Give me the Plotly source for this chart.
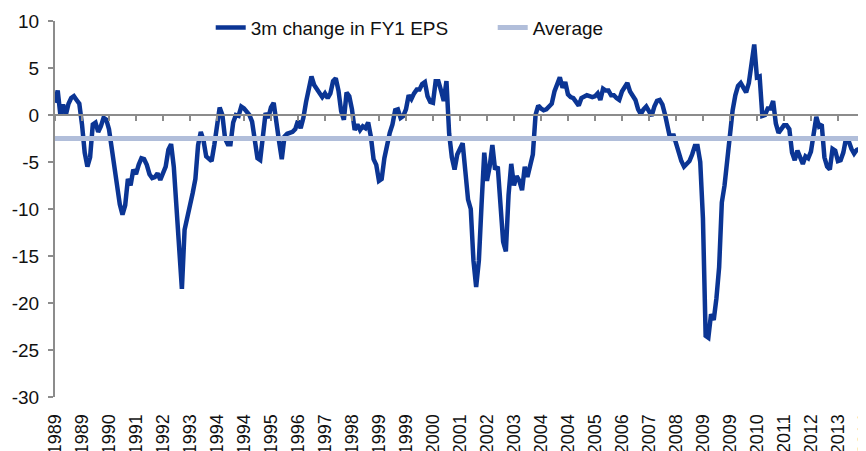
import plotly.graph_objects as go

# Monthly values, Jan 1989 .. Jan 2014
v1989 = [1.3, 2.6, 0.0, 1.1, 0.0, 1.2, 1.8, 2.0, 1.6, 1.2, -1.0, -4.0]
v1990 = [-5.5, -4.5, -1.0, -0.8, -1.8, -1.2, -0.3, -0.5, -1.5, -3.7, -5.5, -7.2]
v1991 = [-9.5, -10.6, -9.6, -6.8, -7.5, -5.8, -6.3, -5.3, -4.6, -4.7, -5.3, -6.3]
v1992 = [-6.7, -6.6, -6.2, -6.9, -6.2, -5.5, -3.7, -3.1, -5.5, -9.5, -14.0, -18.5]
v1993 = [-12.2, -11.0, -9.5, -8.3, -6.8, -3.2, -1.8, -2.7, -4.4, -4.7, -4.9, -3.2]
v1994 = [-0.9, 0.8, 0.0, -2.5, -3.1, -3.1, -0.8, 0.0, -0.1, 0.9, 0.7, 0.4]
v1995 = [0.0, -0.7, -2.5, -4.6, -4.8, -2.5, 0.2, -0.3, 0.8, 1.3, -0.4, -2.8]
v1996 = [-4.7, -2.3, -2.0, -1.9, -1.8, -1.5, -0.6, -1.4, -0.3, 1.4, 3.0, 4.1]
v1997 = [3.2, 2.8, 2.4, 1.9, 2.3, 1.8, 2.3, 3.6, 3.9, 2.6, 0.4, -0.5]
v1998 = [2.4, 2.0, 0.6, -1.6, -1.0, -1.6, -1.2, -1.4, -0.8, -2.3, -4.7, -5.3]
v1999 = [-7.0, -6.8, -4.6, -3.0, -1.9, -1.0, 0.5, 0.6, -0.3, -0.1, 0.6, 2.1]
v2000 = [1.7, 2.3, 2.7, 2.7, 3.3, 3.5, 2.0, 1.4, 1.3, 3.6, 3.6, 2.6]
v2001 = [1.5, 3.6, -2.0, -4.5, -5.8, -4.2, -3.5, -3.0, -6.0, -9.0, -10.0, -15.5]
v2002 = [-18.3, -15.5, -9.5, -4.0, -7.0, -5.5, -3.2, -5.8, -5.5, -10.5, -13.5, -14.5]
v2003 = [-8.5, -5.2, -7.5, -6.5, -7.0, -8.0, -5.5, -6.6, -5.4, -4.2, 0.0, 1.0]
v2004 = [0.7, 0.5, 0.6, 0.9, 1.2, 2.5, 3.3, 4.0, 2.9, 3.5, 2.2, 1.9]
v2005 = [1.8, 1.4, 1.0, 1.8, 2.0, 2.1, 2.0, 1.9, 2.0, 2.3, 1.6, 2.8]
v2006 = [2.6, 2.6, 2.1, 2.1, 1.8, 1.6, 2.5, 3.0, 3.4, 2.5, 2.1, 1.6]
v2007 = [0.6, 0.1, 0.6, 0.9, 0.4, -0.1, 0.9, 1.5, 1.6, 1.1, 0.0, -1.2]
v2008 = [-2.7, -2.0, -3.0, -3.8, -4.9, -5.5, -5.1, -4.9, -4.2, -3.3, -3.3, -5.0]
v2009 = [-11.0, -23.5, -23.7, -21.2, -21.8, -19.5, -16.2, -9.3, -7.5, -4.8, -3.0, 0.5]
v2010 = [2.1, 3.1, 3.4, 3.0, 2.4, 3.4, 5.4, 7.5, 4.0, 4.1, -0.1, 0.0]
v2011 = [0.7, 0.7, 1.5, -0.9, -1.9, -1.5, -1.1, -1.1, -1.5, -4.0, -4.8, -3.8]
v2012 = [-4.4, -5.2, -4.4, -4.6, -3.9, -2.3, -0.2, -1.2, -1.0, -4.5, -5.5, -5.8]
v2013 = [-3.6, -3.8, -4.9, -4.8, -4.0, -2.5, -2.8, -3.6, -4.1, -3.7, -3.6, -3.3]
v2014 = [-1.5]

eps_change = (v1989 + v1990 + v1991 + v1992 + v1993 + v1994 + v1995 + v1996 +
              v1997 + v1998 + v1999 + v2000 + v2001 + v2002 + v2003 + v2004 +
              v2005 + v2006 + v2007 + v2008 + v2009 + v2010 + v2011 + v2012 +
              v2013 + v2014)
average_value = -2.5

tick_labels = ["1989", "1989", "1990", "1991", "1992", "1993", "1994", "1994",
               "1995", "1996", "1997", "1998", "1999", "1999", "2000", "2001",
               "2002", "2003", "2004", "2004", "2005", "2006", "2007", "2008",
               "2009", "2009", "2010", "2011", "2012", "2013", "2014"]
label_every = 10

y_ticks = [10, 5, 0, -5, -10, -15, -20, -25, -30]
y_min, y_max = -30, 10

idx = list(range(len(eps_change)))
tickvals = idx[::label_every]
x_range = [0, 300.4]

FONT = "Liberation Sans, Arial, sans-serif"
AXIS_GREY = "#8c8c8c"

fig = go.Figure()
fig.add_trace(go.Scatter(
    x=idx, y=eps_change, mode="lines", name="3m change in FY1 EPS",
    line=dict(color="#0B3594", width=4.5), xaxis="x", yaxis="y"))
fig.add_trace(go.Scatter(
    x=[idx[0], idx[-1]], y=[average_value, average_value], mode="lines",
    name="Average", line=dict(color="#B1BEDA", width=5), xaxis="x2", yaxis="y"))

# the page body adds an 8px margin, so the figure is 8px smaller
fig.update_layout(
    width=858, height=443, autosize=False,
    margin=dict(l=47, r=0, t=13, b=54, pad=0, autoexpand=False),
    paper_bgcolor="white", plot_bgcolor="white",
    font=dict(family=FONT, size=19, color="#111111"),
    showlegend=True,
    legend=dict(orientation="h", xref="paper", yref="paper",
                x=0.192, y=0.982, xanchor="left", yanchor="middle",
                bgcolor="rgba(0,0,0,0)", font=dict(size=19),
                itemwidth=30, tracegroupgap=0, entrywidth=237,
                entrywidthmode="pixels"),
    xaxis=dict(range=x_range, tickmode="array", tickvals=tickvals,
               ticktext=tick_labels, tickangle=-90, showgrid=False,
               zeroline=False, showline=False, ticks="outside", ticklen=9,
               tickcolor="rgba(0,0,0,0)", tickfont=dict(size=18),
               automargin=False, ticklabeloverflow="allow"),
    xaxis2=dict(range=x_range, overlaying="x", anchor="free",
                position=(0 - y_min) / (y_max - y_min), side="bottom",
                tickmode="array", tickvals=tickvals, showticklabels=False,
                showgrid=False, zeroline=False, showline=True,
                linecolor=AXIS_GREY, linewidth=2, ticks="outside",
                ticklen=5, tickwidth=2, tickcolor=AXIS_GREY),
    yaxis=dict(range=[y_min, y_max], tickmode="array", tickvals=y_ticks,
               ticktext=[str(t) for t in y_ticks], showgrid=False,
               zeroline=False, showline=True, linecolor=AXIS_GREY,
               linewidth=2, ticks="outside", ticklen=5, tickwidth=2,
               tickcolor=AXIS_GREY, tickfont=dict(size=19), automargin=False,
               ticklabelstandoff=5),
)

fig.write_html("out.html")
